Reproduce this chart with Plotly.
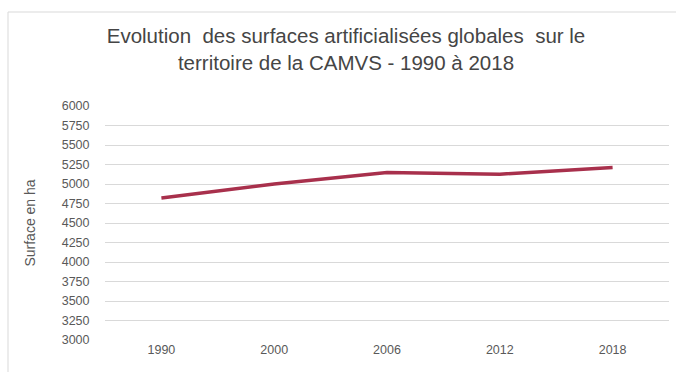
import plotly.graph_objects as go

years = ["1990", "2000", "2006", "2012", "2018"]
surface = [4820, 5000, 5146, 5126, 5211]
y_ticks = list(range(3000, 6001, 250))

L, R, T, B = 105, 7, 106, 32
W, H = 676, 372
pw, ph = W - L - R, H - T - B

fig = go.Figure()
fig.add_trace(go.Scatter(
    x=years, y=surface, mode="lines",
    line=dict(color="#A8304C", width=3.5),
    showlegend=False, hoverinfo="x+y",
))

FONT = "Liberation Sans, Arial, sans-serif"

fig.update_layout(
    width=W, height=H,
    margin=dict(l=L, r=R, t=T, b=B),
    paper_bgcolor="white", plot_bgcolor="white",
    font=dict(family=FONT, color="#595959", size=12.5),
    title=dict(
        text="Evolution\u00a0 des surfaces artificialisées globales\u00a0 sur le<br>territoire de la CAMVS - 1990 à 2018",
        x=346 / W, xref="container", xanchor="center",
        y=1 - 43 / H, yref="container", yanchor="top",
        font=dict(family=FONT, size=20.5, color="#454545"),
    ),
    xaxis=dict(
        type="category", showgrid=False, zeroline=False,
        showline=False, ticks="", ticklen=0,
        tickfont=dict(size=12.5, color="#595959"),
        range=[-0.5, 4.5],
    ),
    yaxis=dict(
        range=[3000, 6000], tickvals=y_ticks,
        showgrid=True, gridcolor="#D9D9D9", gridwidth=1,
        zeroline=False, showline=False,
        ticks="outside", ticklen=12, tickcolor="rgba(0,0,0,0)",
        tickfont=dict(size=12.5, color="#595959"),
        title=dict(text="Surface en ha", font=dict(size=14, color="#595959"), standoff=22),
    ),
)

# outer chart border
fig.add_shape(
    type="rect", xref="paper", yref="paper",
    x0=(8 - L) / pw, x1=(W + 20 - L) / pw,
    y0=(H - B - (H + 20)) / ph, y1=(H - B - 12) / ph,
    line=dict(color="#D9D9D9", width=1), fillcolor="rgba(0,0,0,0)", layer="below",
)

fig.write_html(
    "out.html",
    config={"displayModeBar": False},
    post_script="document.body.style.margin='0';document.body.style.overflow='hidden';",
)
